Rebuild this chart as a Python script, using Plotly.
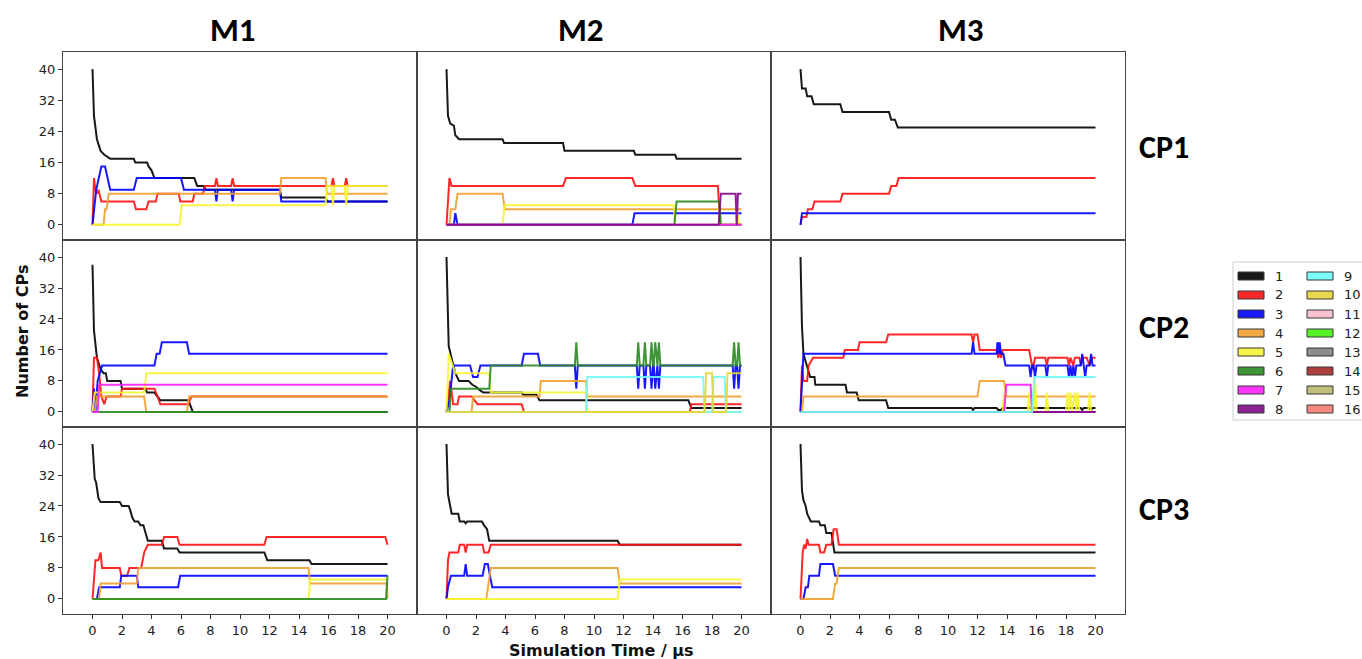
import plotly.graph_objects as go

# ---------------- labels / ticks ----------------
MODELS = ["M1", "M2", "M3"]
CPS = ["CP1", "CP2", "CP3"]
X_TICKS = [0, 2, 4, 6, 8, 10, 12, 14, 16, 18, 20]
Y_TICKS = [0, 8, 16, 24, 32, 40]
LEGEND_LABELS = ["1", "2", "3", "4", "5", "6", "7", "8",
                 "9", "10", "11", "12", "13", "14", "15", "16"]
COLORS = ["#000000", "#ff1010", "#0000ff", "#f0a030", "#f6f630", "#2a8a22",
          "#ff20ff", "#800a8a", "#70fafa", "#e8d43a", "#f7bccb", "#44f010",
          "#808080", "#a52a2a", "#bdb76b", "#f47f72"]

# ---------------- data: (time in us, number of CPs) ----------------
# M1 / CP1
M1_CP1_1 = [(0, 40), (0.1, 28), (0.3, 22), (0.55, 19), (0.8, 18), (1.2, 17), (2.8, 17), (2.9, 16), (3.7, 16), (3.8, 15),
            (4.0, 14), (4.2, 12), (6.9, 12), (7.1, 10), (7.5, 10), (7.7, 9), (12.7, 9), (12.8, 7), (15.8, 7), (15.9, 6), (20, 6)]
M1_CP1_2 = [(0, 0), (0.1, 12), (0.2, 9), (0.3, 8), (0.4, 9), (0.6, 6), (2.8, 6), (2.95, 4), (3.65, 4), (3.8, 6), (4.3, 6),
            (4.4, 8), (5.85, 8), (5.95, 6), (6.8, 6), (6.9, 8), (7.5, 8), (7.6, 10), (8.3, 10), (8.4, 12), (8.5, 10),
            (9.4, 10), (9.5, 12), (9.6, 10), (16.2, 10), (16.3, 12), (16.4, 10), (17.1, 10), (17.2, 12), (17.3, 10), (20, 10)]
M1_CP1_3 = [(0, 0), (0.25, 9), (0.6, 15), (0.85, 15), (1.2, 9), (2.8, 9), (3.0, 12), (6.0, 12), (6.2, 9), (8.3, 9),
            (8.4, 6), (8.5, 9), (9.4, 9), (9.5, 6), (9.6, 9), (12.7, 9), (12.8, 6), (20, 6)]
M1_CP1_4 = [(0, 0), (0.75, 0), (0.85, 4), (0.95, 4), (1.1, 8), (12.7, 8), (12.8, 12), (15.8, 12), (15.9, 8), (20, 8)]
M1_CP1_5 = [(0, 0), (5.9, 0), (6.05, 5), (15.8, 5), (15.9, 10), (16.2, 10), (16.3, 5), (16.4, 10), (17.1, 10),
            (17.2, 5), (17.3, 10), (20, 10)]

# M2 / CP1
M2_CP1_1 = [(0, 40), (0.1, 28), (0.25, 26), (0.5, 25.5), (0.6, 23), (0.85, 22), (3.8, 22), (3.9, 21), (7.9, 21),
            (8.0, 19), (12.7, 19), (12.8, 18), (15.5, 18), (15.6, 17), (20, 17)]
M2_CP1_2 = [(0, 0), (0.2, 12), (0.35, 10), (7.9, 10), (8.1, 12), (12.6, 12), (12.8, 10), (18.4, 10), (18.55, 0), (20, 0)]
M2_CP1_3 = [(0, 0), (0.5, 0), (0.6, 3), (0.75, 0), (12.6, 0), (12.75, 3), (20, 3)]
M2_CP1_4 = [(0, 0), (0.2, 0), (0.3, 4), (0.6, 4), (0.75, 8), (3.8, 8), (3.95, 4), (20, 4)]
M2_CP1_5 = [(0, 0), (3.8, 0), (3.95, 5), (15.4, 5), (15.5, 0), (19.6, 0), (19.7, 4), (19.8, 0), (20, 0)]
M2_CP1_6 = [(0, 0), (15.45, 0), (15.6, 6), (18.5, 6), (18.6, 0), (20, 0)]
M2_CP1_7 = [(0, 0), (20, 0)]
M2_CP1_8 = [(0, 0), (18.45, 0), (18.6, 8), (19.6, 8), (19.68, 0), (19.76, 8), (20, 8)]

# M3 / CP1
M3_CP1_1 = [(0, 40), (0.1, 35), (0.35, 35), (0.45, 33), (0.75, 33), (0.9, 31), (2.7, 31), (2.85, 29), (6.0, 29),
            (6.15, 27), (6.4, 27), (6.6, 25), (20, 25)]
M3_CP1_2 = [(0, 0), (0.1, 2), (0.4, 2), (0.5, 4), (0.8, 4), (0.95, 6), (2.7, 6), (2.85, 8), (6.0, 8), (6.15, 10),
            (6.5, 10), (6.65, 12), (20, 12)]
M3_CP1_3 = [(0, 0), (0.1, 3), (20, 3)]

# M1 / CP2
M1_CP2_1 = [(0, 38), (0.1, 21), (0.3, 14), (0.55, 11), (0.75, 10), (0.9, 10), (1.0, 8), (1.9, 8), (2.0, 6), (3.6, 6),
            (3.7, 5), (4.2, 5), (4.4, 4), (4.6, 3), (6.5, 3), (6.8, 0), (20, 0)]
M1_CP2_2 = [(0, 0), (0.1, 14), (0.3, 14), (0.45, 10), (0.6, 4), (0.8, 2), (0.95, 4), (1.9, 4), (2.0, 6), (4.2, 6),
            (4.4, 4), (4.6, 2), (6.5, 2), (6.7, 4), (20, 4)]
M1_CP2_3 = [(0, 0), (0.1, 6), (0.2, 0), (0.35, 8), (0.65, 12), (4.2, 12), (4.35, 15), (4.55, 15), (4.7, 18), (6.4, 18),
            (6.55, 15), (20, 15)]
M1_CP2_4 = [(0, 0), (0.15, 0), (0.3, 4), (3.5, 4), (3.65, 0), (6.4, 0), (6.55, 4), (20, 4)]
M1_CP2_5 = [(0, 0), (0.15, 5), (3.5, 5), (3.65, 10), (20, 10)]
M1_CP2_6 = [(0, 0), (20, 0)]
M1_CP2_7 = [(0, 0), (0.35, 0), (0.45, 7), (20, 7)]

# M2 / CP2
M2_CP2_1 = [(0, 40), (0.15, 17), (0.4, 13), (0.6, 10), (0.85, 8), (1.5, 8), (1.75, 7), (2.0, 6.5), (2.3, 5.5),
            (2.5, 5), (5.1, 5), (5.2, 4.4), (6.1, 4.4), (6.3, 3), (16.4, 3), (16.6, 1), (20, 1)]
M2_CP2_2 = [(0, 0), (0.25, 8), (0.45, 2), (0.75, 2), (0.85, 4), (1.7, 4), (2.1, 2), (5.1, 2), (5.25, 0), (16.5, 0),
            (16.6, 2), (20, 2)]
M2_CP2_3 = [(0, 0), (0.2, 3), (0.45, 12), (1.6, 12), (1.8, 9), (2.1, 9), (2.3, 12), (5.1, 12), (5.25, 15), (6.2, 15),
            (6.35, 12), (8.7, 12), (8.8, 6), (8.9, 12), (12.9, 12), (13.0, 6), (13.1, 12), (13.35, 12), (13.45, 6),
            (13.55, 12), (13.8, 12), (13.9, 6), (14.0, 12), (14.05, 12), (14.15, 6), (14.25, 12), (14.3, 12),
            (14.4, 6), (14.5, 12), (19.4, 12), (19.5, 6), (19.6, 12), (19.7, 12), (19.8, 6), (19.9, 12), (20, 12)]
M2_CP2_4 = [(0, 0), (1.7, 0), (1.8, 4), (6.3, 4), (6.4, 8), (9.45, 8), (9.55, 4), (20, 4)]
M2_CP2_5 = [(0, 0), (0.15, 15), (0.6, 10), (2.9, 10), (3.0, 5), (9.45, 5), (9.55, 0), (20, 0)]
M2_CP2_6 = [(0, 0), (0.2, 0), (0.3, 6), (2.9, 6), (3.0, 12), (8.7, 12), (8.8, 18), (8.9, 12), (12.9, 12), (13.0, 18),
            (13.1, 12), (13.35, 12), (13.45, 18), (13.55, 12), (13.8, 12), (13.9, 18), (14.0, 12), (14.05, 12),
            (14.15, 18), (14.25, 12), (14.3, 12), (14.4, 18), (14.5, 12), (19.4, 12), (19.5, 18), (19.6, 12),
            (19.7, 12), (19.8, 18), (19.9, 12), (20, 12)]
M2_CP2_9 = [(0, 0), (9.45, 0), (9.55, 9), (17.4, 9), (17.5, 0), (18.0, 0), (18.1, 9), (18.85, 9), (18.95, 0), (20, 0)]
M2_CP2_10 = [(0, 0), (17.5, 0), (17.6, 10), (18.0, 10), (18.1, 0), (18.95, 0), (19.05, 10), (20, 10)]

# M3 / CP2
M3_CP2_1 = [(0, 40), (0.1, 22), (0.2, 15), (0.35, 13), (0.55, 11), (0.65, 9), (0.95, 9), (1.0, 7), (3.05, 7),
            (3.15, 5), (3.8, 5), (3.95, 3), (5.8, 3), (5.95, 1), (11.6, 1), (11.7, 0.5), (11.8, 1), (13.3, 1),
            (13.4, 0.5), (13.6, 0.5), (13.7, 1), (19.0, 1), (19.1, 0.5), (19.2, 1), (19.6, 1), (19.7, 0.5),
            (19.8, 1), (20, 1)]
M3_CP2_2 = [(0, 0), (0.1, 12), (0.2, 8), (0.45, 8), (0.55, 12), (0.85, 14), (2.9, 14), (3.0, 16), (3.9, 16),
            (4.0, 18), (5.8, 18), (5.95, 20), (11.6, 20), (11.7, 18), (11.8, 20), (12.0, 20), (12.15, 16),
            (13.3, 16), (13.4, 14), (13.5, 16), (13.6, 14), (13.7, 16), (15.5, 16), (15.6, 14), (15.75, 11),
            (15.9, 14), (16.6, 14), (16.7, 12), (16.8, 14), (18.1, 14), (18.2, 12), (18.3, 14), (18.5, 12),
            (18.6, 14), (18.9, 14), (19.0, 12), (19.1, 14), (19.4, 14), (19.6, 12), (19.75, 14), (20, 14)]
M3_CP2_3 = [(0, 0), (0.2, 15), (11.6, 15), (11.7, 18), (11.8, 15), (13.3, 15), (13.35, 18), (13.45, 15), (13.5, 18),
            (13.6, 15), (13.75, 15), (13.9, 12), (15.5, 12), (15.6, 9), (15.7, 12), (15.8, 12), (15.9, 9),
            (16.0, 12), (16.6, 12), (16.7, 9), (16.8, 12), (18.1, 12), (18.2, 9), (18.3, 12), (18.4, 9),
            (18.5, 12), (18.6, 9), (18.7, 12), (19.0, 12), (19.1, 15), (19.2, 12), (19.3, 9), (19.4, 12),
            (19.6, 12), (19.7, 15), (19.8, 12), (20, 12)]
M3_CP2_4 = [(0, 0), (0.1, 0), (0.2, 4), (12.0, 4), (12.15, 8), (13.8, 8), (13.95, 4), (20, 4)]
M3_CP2_5 = [(0, 0), (13.7, 0), (13.8, 5), (13.9, 0), (15.4, 0), (15.5, 5), (15.6, 0), (15.8, 0), (15.9, 9),
            (16.0, 0), (16.6, 0), (16.7, 5), (16.8, 0), (18.0, 0), (18.1, 5), (18.2, 0), (18.3, 5), (18.4, 0),
            (18.6, 5), (18.7, 0), (18.8, 5), (18.9, 0), (19.5, 0), (19.6, 5), (19.7, 0), (20, 0)]
M3_CP2_7 = [(0, 0), (13.8, 0), (13.95, 7), (15.6, 7), (15.7, 0), (20, 0)]
M3_CP2_8 = [(0, 0), (20, 0)]
M3_CP2_9 = [(0, 0), (15.7, 0), (15.85, 9), (20, 9)]

# M1 / CP3
M1_CP3_1 = [(0, 40), (0.15, 31), (0.25, 30), (0.4, 26), (0.55, 25), (1.85, 25), (2.0, 24), (2.45, 24), (2.55, 23),
            (2.7, 21), (2.85, 20), (3.1, 20), (3.25, 19), (3.45, 19), (3.6, 17), (3.75, 15), (4.7, 15), (4.85, 13),
            (5.75, 13), (5.9, 12), (11.65, 12), (11.85, 10), (14.7, 10), (14.85, 9), (20, 9)]
M1_CP3_2 = [(0, 0), (0.2, 10), (0.4, 10), (0.55, 12), (0.65, 8), (1.85, 8), (1.95, 6), (2.35, 6), (2.5, 8), (3.3, 8),
            (3.5, 12), (3.75, 14), (4.7, 14), (4.85, 16), (5.75, 16), (5.9, 14), (11.65, 14), (11.8, 16),
            (19.85, 16), (20, 14)]
M1_CP3_3 = [(0, 0), (0.3, 0), (0.45, 3), (1.85, 3), (1.95, 6), (3.0, 6), (3.1, 3), (5.8, 3), (5.95, 6), (20, 6)]
M1_CP3_4 = [(0, 0), (0.45, 0), (0.55, 4), (3.0, 4), (3.1, 8), (14.65, 8), (14.75, 4), (19.95, 4), (20, 0)]
M1_CP3_5 = [(0, 0), (14.65, 0), (14.75, 5), (20, 5)]
M1_CP3_6 = [(0, 0), (19.9, 0), (20, 6)]

# M2 / CP3
M2_CP3_1 = [(0, 40), (0.1, 27), (0.25, 24), (0.35, 22), (0.8, 22), (0.9, 20), (1.2, 20), (1.3, 19.5), (1.4, 20),
            (2.4, 20), (2.55, 19), (2.75, 18), (2.9, 15), (11.6, 15), (11.75, 14), (20, 14)]
M2_CP3_2 = [(0, 0), (0.1, 10), (0.2, 12), (0.8, 12), (0.9, 14), (1.2, 14), (1.3, 12), (1.4, 14), (2.45, 14),
            (2.55, 12), (2.85, 12), (3.0, 14), (20, 14)]
M2_CP3_3 = [(0, 0), (0.1, 3), (0.3, 6), (1.2, 6), (1.3, 9), (1.4, 6), (2.45, 6), (2.6, 9), (2.8, 9), (2.95, 6),
            (3.1, 3), (20, 3)]
M2_CP3_4 = [(0, 0), (2.7, 0), (3.0, 8), (11.6, 8), (11.75, 4), (20, 4)]
M2_CP3_5 = [(0, 0), (11.6, 0), (11.75, 5), (20, 5)]

# M3 / CP3
M3_CP3_1 = [(0, 40), (0.1, 28), (0.2, 25.5), (0.35, 24), (0.45, 22), (0.7, 20), (1.25, 20), (1.35, 19), (1.65, 19),
            (1.75, 17), (2.1, 17), (2.2, 14), (2.3, 12), (20, 12)]
M3_CP3_2 = [(0, 0), (0.15, 12), (0.25, 14), (0.35, 13), (0.45, 15.5), (0.55, 14), (1.25, 14), (1.35, 12), (1.6, 12),
            (1.75, 14), (2.1, 14), (2.25, 18), (2.45, 18), (2.6, 14), (20, 14)]
M3_CP3_3 = [(0, 0), (0.2, 0), (0.35, 3), (0.5, 3), (0.6, 6), (1.25, 6), (1.35, 9), (2.2, 9), (2.35, 6), (20, 6)]
M3_CP3_4 = [(0, 0), (2.2, 0), (2.35, 4), (2.45, 4), (2.6, 8), (20, 8)]

PANELS = {
    ("M1", "CP1"): {1: M1_CP1_1, 2: M1_CP1_2, 3: M1_CP1_3, 4: M1_CP1_4, 5: M1_CP1_5},
    ("M2", "CP1"): {1: M2_CP1_1, 2: M2_CP1_2, 3: M2_CP1_3, 4: M2_CP1_4, 5: M2_CP1_5, 6: M2_CP1_6,
                    7: M2_CP1_7, 8: M2_CP1_8},
    ("M3", "CP1"): {1: M3_CP1_1, 2: M3_CP1_2, 3: M3_CP1_3},
    ("M1", "CP2"): {1: M1_CP2_1, 2: M1_CP2_2, 3: M1_CP2_3, 4: M1_CP2_4, 5: M1_CP2_5, 6: M1_CP2_6, 7: M1_CP2_7},
    ("M2", "CP2"): {1: M2_CP2_1, 2: M2_CP2_2, 3: M2_CP2_3, 4: M2_CP2_4, 5: M2_CP2_5, 6: M2_CP2_6,
                    9: M2_CP2_9, 10: M2_CP2_10},
    ("M3", "CP2"): {1: M3_CP2_1, 2: M3_CP2_2, 3: M3_CP2_3, 4: M3_CP2_4, 5: M3_CP2_5, 7: M3_CP2_7,
                    8: M3_CP2_8, 9: M3_CP2_9},
    ("M1", "CP3"): {1: M1_CP3_1, 2: M1_CP3_2, 3: M1_CP3_3, 4: M1_CP3_4, 5: M1_CP3_5, 6: M1_CP3_6},
    ("M2", "CP3"): {1: M2_CP3_1, 2: M2_CP3_2, 3: M2_CP3_3, 4: M2_CP3_4, 5: M2_CP3_5},
    ("M3", "CP3"): {1: M3_CP3_1, 2: M3_CP3_2, 3: M3_CP3_3, 4: M3_CP3_4},
}

# ---------------- layout geometry (pixels) ----------------
W, H = 1362, 659
COL_PX = [(63, 417), (417, 771), (771, 1125)]
ROW_PX = [(52, 240), (240, 427), (427, 614)]
TITLE_X = [233, 581, 961]
ROWLABEL_Y = [148, 327, 509]


def px(x):
    return x / W


def py(y):
    return 1 - y / H


fig = go.Figure()
layout = dict(width=W, height=H, margin=dict(l=0, r=0, t=0, b=0),
              paper_bgcolor="white", plot_bgcolor="white", showlegend=False)

TICKFONT = dict(family="DejaVu Sans", size=13, color="#222")

for r, cp in enumerate(CPS):
    for c, m in enumerate(MODELS):
        k = r * 3 + c + 1
        xa = "xaxis" if k == 1 else f"xaxis{k}"
        ya = "yaxis" if k == 1 else f"yaxis{k}"
        xref = "x" if k == 1 else f"x{k}"
        yref = "y" if k == 1 else f"y{k}"
        bottom = (r == 2)
        left = (c == 0)
        layout[xa] = dict(domain=[px(COL_PX[c][0]), px(COL_PX[c][1])], anchor=yref,
                          range=[-2, 22], tickvals=X_TICKS if bottom else [],
                          ticks="outside" if bottom else "", ticklen=4, tickcolor="#333",
                          showticklabels=bottom, tickfont=TICKFONT,
                          showline=True, mirror=True, linecolor="#444", linewidth=1.2,
                          showgrid=False, zeroline=False, fixedrange=True)
        layout[ya] = dict(domain=[py(ROW_PX[r][1]), py(ROW_PX[r][0])], anchor=xref,
                          range=[-3.9, 44.4], tickvals=Y_TICKS if left else [],
                          ticks="outside" if left else "", ticklen=4, tickcolor="#333",
                          showticklabels=left, tickfont=TICKFONT,
                          showline=True, mirror=True, linecolor="#444", linewidth=1.2,
                          showgrid=False, zeroline=False, fixedrange=True)
        series = PANELS[(m, cp)]
        for idx in sorted(series):
            pts = series[idx]
            fig.add_trace(go.Scatter(
                x=[p[0] for p in pts], y=[p[1] for p in pts], mode="lines",
                line=dict(color=COLORS[idx - 1], width=2), opacity=0.9,
                name=LEGEND_LABELS[idx - 1], xaxis=xref, yaxis=yref,
                hoverinfo="skip"))

annotations = []
TITLE_FONT = "Carlito, Liberation Sans Narrow, Arial Narrow, Liberation Sans, sans-serif"
for c, m in enumerate(MODELS):
    annotations.append(dict(text=f"<b>{m}</b>", x=px(TITLE_X[c]), y=py(30), xref="paper", yref="paper",
                            showarrow=False, xanchor="center", yanchor="middle",
                            font=dict(family=TITLE_FONT, size=33, color="black")))
for r, cp in enumerate(CPS):
    annotations.append(dict(text=f"<b>{cp}</b>", x=px(1164), y=py(ROWLABEL_Y[r]), xref="paper", yref="paper",
                            showarrow=False, xanchor="center", yanchor="middle",
                            font=dict(family=TITLE_FONT, size=32, color="black")))
annotations.append(dict(text="<b>Number of CPs</b>", x=px(22), y=py(332), xref="paper", yref="paper",
                        showarrow=False, textangle=-90, xanchor="center", yanchor="middle",
                        font=dict(family="DejaVu Sans", size=16, color="#111")))
annotations.append(dict(text="<b>Simulation Time / µs</b>", x=px(601), y=py(650), xref="paper", yref="paper",
                        showarrow=False, xanchor="center", yanchor="middle",
                        font=dict(family="DejaVu Sans", size=16, color="#111")))

# ---------------- manual two-column legend ----------------
shapes = [dict(type="rect", xref="paper", yref="paper", x0=px(1233), x1=px(1368), y0=py(420), y1=py(262),
               line=dict(color="#cfcfcf", width=1), fillcolor="white", layer="below")]
for i, lab in enumerate(LEGEND_LABELS):
    col, row = divmod(i, 8)
    x0 = [1238, 1307][col]
    yc = 276 + row * 19
    shapes.append(dict(type="rect", xref="paper", yref="paper", x0=px(x0), x1=px(x0 + 26),
                       y0=py(yc + 4), y1=py(yc - 4), line=dict(color="#222", width=1),
                       fillcolor=COLORS[i], opacity=0.9))
    annotations.append(dict(text=lab, x=px(x0 + 35), y=py(yc), xref="paper", yref="paper",
                            showarrow=False, xanchor="left", yanchor="middle",
                            font=dict(family="DejaVu Sans", size=13, color="#222")))

layout["annotations"] = annotations
layout["shapes"] = shapes
fig.update_layout(**layout)
fig.write_html("out.html")
